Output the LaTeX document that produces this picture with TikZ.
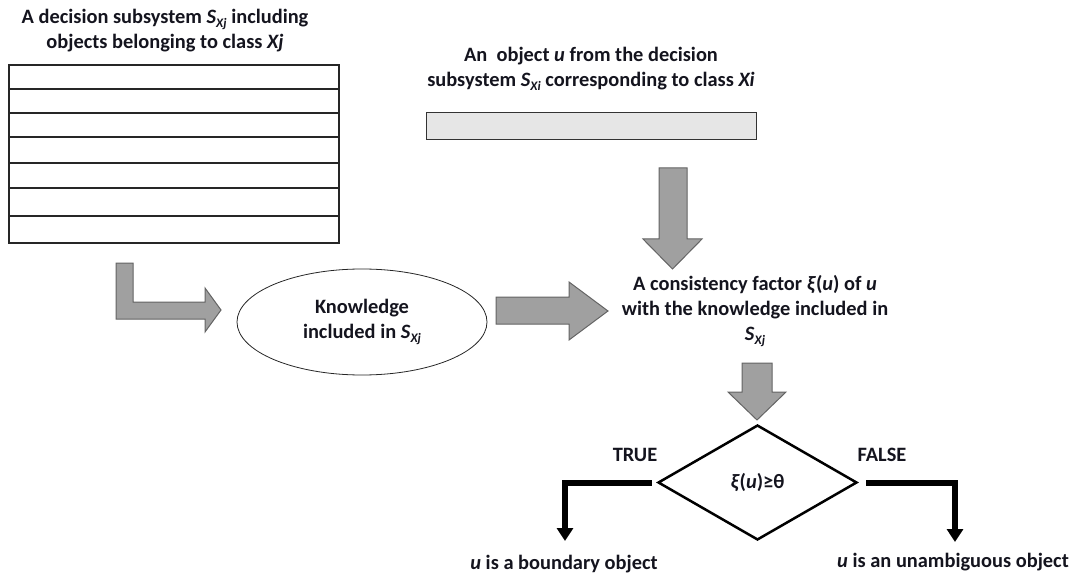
\documentclass[tikz,border=0pt]{standalone}
\usepackage{fontspec}
\setmainfont{Carlito}
\usetikzlibrary{shapes.geometric,arrows.meta}
\definecolor{arrowfill}{RGB}{160,160,160}
\definecolor{arrowline}{RGB}{100,100,100}
\definecolor{barfill}{RGB}{230,230,230}
\definecolor{txt}{RGB}{20,20,30}
\newcommand\Sx[1]{\textit{S}\raisebox{-0.45ex}{\fontsize{13}{13}\selectfont\textit{#1}}}
\tikzset{
  lbl/.style={font=\bfseries\fontsize{20.4}{25}\selectfont, inner sep=0pt, align=center, text=txt},
  blockarrow/.style={fill=arrowfill, draw=arrowline, line width=1pt, line join=miter},
  decarrow/.style={line width=6pt, -{Triangle[length=13pt,width=16pt]}},
  boxline/.style={line width=1.3pt, draw=black!85},
}
\begin{document}
\begin{tikzpicture}[x=1pt,y=-1pt]
\useasboundingbox (0,0) rectangle (1072,575);

% titles
\node[lbl] (t1) at (165,30.5) {A decision subsystem \Sx{Xj} including\\objects belonging to class \textit{Xj}};
\node[lbl] (t2) at (591,69) {An\ \ object \textit{u} from the decision\\subsystem \Sx{Xi} corresponding to class \textit{Xi}};

% table
\node[boxline, draw, minimum width=330pt, minimum height=178pt, inner sep=0pt] (tab) at (174,154) {};
\foreach \yy in {89,113,137,163,188,216}
  \draw[boxline] (tab.west |- 0,\yy) -- (tab.east |- 0,\yy);

% object bar
\node[draw=black!80, line width=1pt, fill=barfill, minimum width=330pt, minimum height=27pt, inner sep=0pt] (bar) at (591,126.5) {};

% knowledge ellipse
\node[lbl, ellipse, draw=black!85, line width=0.8pt, minimum width=250pt, minimum height=106pt] (kn) at (362,322) {Knowledge\\included in \Sx{Xj}};

% consistency factor
\node[lbl] (cf) at (755,311) {A consistency factor \textit{ξ}(\textit{u}) of \textit{u}\\with the knowledge included in\\\Sx{Xj}};

% decision diamond
\node[lbl, diamond, draw=black, line width=2.5pt, minimum width=199pt, minimum height=115pt] (dec) at (757.5,482.5) {\textit{ξ}(\textit{u})≥θ};

\node[lbl] (tr) at (635,455) {TRUE};
\node[lbl] (fa) at (882,455) {FALSE};
\node[lbl] (bo) at (564,564) {\textit{u} is a boundary object};
\node[lbl] (un) at (953,562) {\textit{u} is an unambiguous object};

% block arrows
\draw[blockarrow] (116,263) -- (133,263) -- (133,302) -- (205,302) -- (205,288) -- (221,310) -- (205,332) -- (205,319) -- (116,319) -- cycle;
\draw[blockarrow] (496,297) -- (569,297) -- (569,282) -- (608,311) -- (569,340) -- (569,324) -- (496,324) -- cycle;
\draw[blockarrow] (659,168) -- (687,168) -- (687,239) -- (702,239) -- (672.5,269) -- (643,239) -- (659,239) -- cycle;
\draw[blockarrow] (742,363) -- (772,363) -- (772,392) -- (786,392) -- (757,420) -- (728,392) -- (742,392) -- cycle;

% decision outcomes
\coordinate (lt) at (565,541);
\coordinate (rt) at (955,542);
\draw[decarrow, shorten <=5pt] (dec.west) -- (dec.west -| lt) -- (lt);
\draw[decarrow, shorten <=8pt] (dec.east) -- (dec.east -| rt) -- (rt);
\end{tikzpicture}
\end{document}
